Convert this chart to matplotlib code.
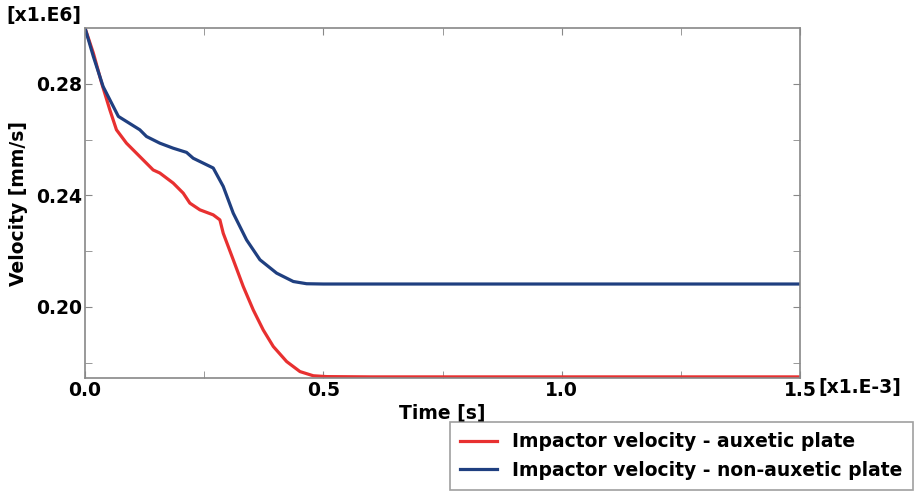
import matplotlib
matplotlib.use("Agg")
import matplotlib.pyplot as plt
from matplotlib.ticker import FixedLocator

# time in units of 1e-3 s, velocity in units of 1e6 mm/s
t_aux = [0.0, 0.0175, 0.035, 0.052, 0.066, 0.087, 0.115, 0.143, 0.157, 0.185,
         0.206, 0.220, 0.241, 0.269, 0.283, 0.290, 0.311, 0.332, 0.353, 0.374,
         0.395, 0.423, 0.451, 0.479, 0.507, 0.6, 0.8, 1.0, 1.2, 1.5]
v_aux = [0.300, 0.291, 0.2802, 0.2707, 0.2635, 0.2587, 0.2539, 0.2491, 0.2480, 0.2444,
         0.2408, 0.2372, 0.2348, 0.2330, 0.2312, 0.2264, 0.2169, 0.2073, 0.1989, 0.1917,
         0.1858, 0.1804, 0.1768, 0.1753, 0.1750, 0.1749, 0.1749, 0.1749, 0.1749, 0.1749]

t_non = [0.0, 0.0175, 0.038, 0.070, 0.115, 0.129, 0.157, 0.185, 0.213, 0.227,
         0.269, 0.290, 0.311, 0.339, 0.367, 0.402, 0.437, 0.465, 0.5, 0.8, 1.0, 1.2, 1.5]
v_non = [0.300, 0.2898, 0.279, 0.2683, 0.2635, 0.2611, 0.2587, 0.2569, 0.2554, 0.2533,
         0.2498, 0.2432, 0.2336, 0.2240, 0.2169, 0.2121, 0.2091, 0.2083, 0.2082, 0.2082,
         0.2082, 0.2082, 0.2082]

labels = ["Impactor velocity - auxetic plate", "Impactor velocity - non-auxetic plate"]
colors = ["#e83030", "#1f3f80"]

fs = 13.5
plt.rcParams["font.family"] = "DejaVu Sans"
plt.rcParams["font.weight"] = "bold"

fig = plt.figure(figsize=(9.15, 4.94), dpi=100)
ax = fig.add_axes([85 / 915, 1 - 378 / 494, 715 / 915, 350 / 494])

ax.plot(t_aux, v_aux, color=colors[0], lw=2.3, label=labels[0])
ax.plot(t_non, v_non, color=colors[1], lw=2.3, label=labels[1])

ax.set_xlim(0, 1.5)
ax.set_ylim(0.1745, 0.300)
ax.xaxis.set_major_locator(FixedLocator([0.0, 0.5, 1.0, 1.5]))
ax.xaxis.set_minor_locator(FixedLocator([0.25, 0.75, 1.25]))
ax.yaxis.set_major_locator(FixedLocator([0.20, 0.24, 0.28]))
ax.yaxis.set_minor_locator(FixedLocator([0.18, 0.22, 0.26]))
ax.set_xticklabels(["0.0", "0.5", "1.0", "1.5"])
ax.set_yticklabels(["0.20", "0.24", "0.28"])

for side in ax.spines.values():
    side.set_color("#888888")
    side.set_linewidth(1.2)
ax.tick_params(which="both", direction="in", top=True, right=True,
               color="#888888", labelsize=fs, pad=2)
ax.tick_params(which="both", length=5)

ax.set_xlabel("Time [s]", fontsize=fs, fontweight="bold", labelpad=3)
ax.set_ylabel("Velocity [mm/s]", fontsize=fs, fontweight="bold", labelpad=6)

fig.text(6 / 915, 1 - 15 / 494, "[x1.E6]", fontsize=fs, fontweight="bold", va="center")
fig.text(818 / 915, 1 - 388 / 494, "[x1.E-3]", fontsize=fs, fontweight="bold", va="center")

leg = fig.legend(loc="lower right", bbox_to_anchor=(913 / 915, 4 / 494),
                 frameon=True, fancybox=False, handlelength=2.0, borderaxespad=0,
                 borderpad=0.55, labelspacing=0.5, prop={"weight": "bold", "size": fs})
leg.get_frame().set_edgecolor("#888888")
leg.get_frame().set_linewidth(1.2)

fig.savefig("out.png", dpi=100)
